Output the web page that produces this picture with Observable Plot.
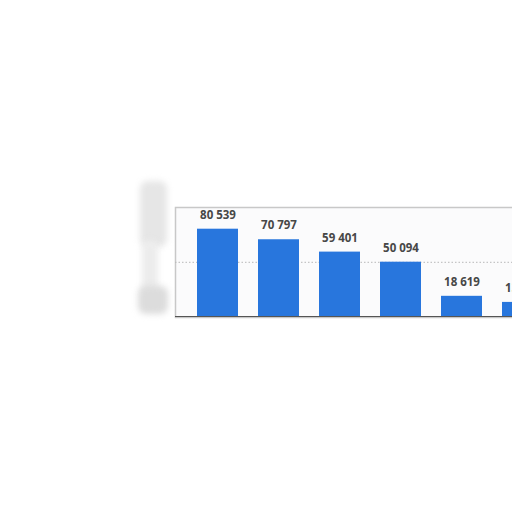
<!DOCTYPE html>
<html><head><meta charset="utf-8">
<script src="https://cdn.jsdelivr.net/npm/d3@7"></script>
<script src="https://cdn.jsdelivr.net/npm/@observablehq/plot@0.6"></script>
<style>
html,body{margin:0;padding:0;background:#fff;overflow:hidden;width:512px;height:512px}
#wrap{position:relative;width:512px;height:512px;overflow:hidden}
#chart{position:absolute;left:0;top:0}
.blob{position:absolute;background:#e6e6e6;filter:blur(3px);border-radius:8px}
</style>
</head><body><div id="wrap"><div class="blob" style="left:140px;top:181px;width:27px;height:66px"></div><div class="blob" style="left:142px;top:240px;width:16px;height:56px;background:#ececec"></div><div class="blob" style="left:138px;top:286px;width:30px;height:28px;background:#dcdcdc"></div><div id="chart"></div></div>
<script>
const categories = ["1", "2", "3", "4", "5", "6"];
const values = [80539, 70797, 59401, 50094, 18619, 13000];
const gridTicks = [50000];
const yDomain = [0, 100000];

const data = categories.map((c, i) => ({category: c, value: values[i]}));
const fmt = v => d3.format(",")(v).replace(/,/g, " ");

const plot = Plot.plot({
  width: 580, height: 512,
  marginLeft: 175, marginRight: 0, marginTop: 207, marginBottom: 195,
  style: {maxWidth: "none", background: "transparent", fontFamily: "'Open Sans', sans-serif", overflow: "hidden"},
  x: {domain: categories, range: [175, 566], padding: 0.32, axis: null},
  y: {domain: yDomain, range: [316, 207.6], axis: null},
  marks: [
    Plot.frame({fill: "#fbfbfc", stroke: "#c8c8c8", strokeWidth: 1.5}),
    Plot.ruleY(gridTicks, {stroke: "#b8b8b8", strokeDasharray: "1.5,2", strokeWidth: 1}),
    Plot.barY(data, {x: "category", y: "value", fill: "#2876dd"}),
    Plot.text(data, {x: "category", y: "value", text: d => fmt(d.value), dy: -14, fill: "#474747", fontWeight: "bold", fontSize: 11.5}),
    Plot.ruleY([0], {stroke: "#555", strokeWidth: 1.2})
  ]
});
document.getElementById("chart").appendChild(plot);
</script>
</body></html>
